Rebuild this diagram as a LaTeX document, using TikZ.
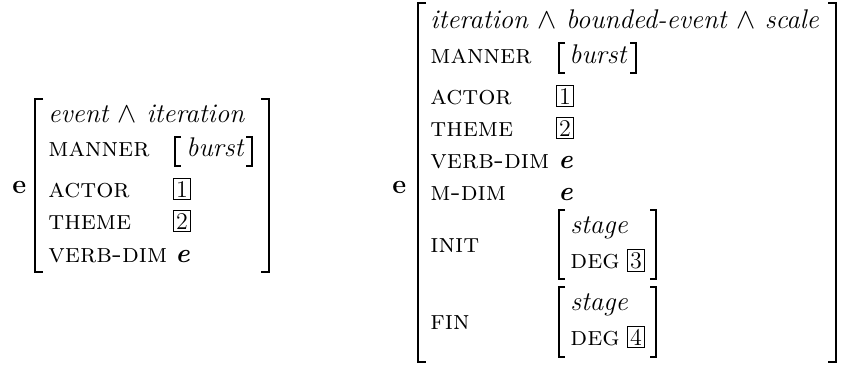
\documentclass[tikz,border=0pt]{standalone}
\usepackage{tikz}
\newcommand{\avmbr}[6]{%
    \draw[line width=#6] (#1+#5,#2) -- (#1,#2) -- (#1,#4) -- (#1+#5,#4);
    \draw[line width=#6] (#3-#5,#2) -- (#3,#2) -- (#3,#4) -- (#3-#5,#4);
}

\begin{document}
\begin{tikzpicture}[
        x=0.5pt, y=-0.5pt,
        every node/.style={inner sep=0pt, font=\fontsize{13.5}{16}\selectfont},
        attr/.style={anchor=base west, font=\fontsize{13.5}{16}\selectfont\scshape},
        typ/.style={anchor=base west, font=\fontsize{13.5}{16}\selectfont\itshape},
        tag/.style={draw, line width=0.4pt, inner sep=1.3pt, anchor=base west, font=\fontsize{12}{14}\selectfont},
        ind/.style={anchor=base west, font=\fontsize{13.5}{16}\selectfont\bfseries}
    ]
        \useasboundingbox (0,0) rectangle (842,365);

        \node[ind] (e1) at (12,193) {e};
        \node[typ] (t1) at (48,122) {event $\wedge$ iteration};
        \node[attr] (m1) at (48,156) {manner};
        \node[typ] (b1) at (186,156) {burst};
        \node[attr] (a1) at (48,197) {actor};
        \node[tag] (n1) at (173,197) {1};
        \node[attr] (th1) at (48,229) {theme};
        \node[tag] (n2) at (173,229) {2};
        \node[attr] (v1) at (48,262) {verb-dim};
        \node[typ] (ve1) at (175,262) {\bfseries e};
        \avmbr{35}{99}{269}{272}{8}{1.2pt}
        \avmbr{175}{137}{252}{166}{6}{0.7pt}

        \node[ind] (e2) at (392,193) {e};
        \node[typ] (t2) at (430,28) {iteration $\wedge$ bounded-event $\wedge$ scale};
        \node[attr] (m2) at (430,63) {manner};
        \node[typ] (b2) at (569,63) {burst};
        \node[attr] (a2) at (430,104) {actor};
        \node[tag] (n3) at (556,104) {1};
        \node[attr] (th2) at (430,136) {theme};
        \node[tag] (n4) at (556,136) {2};
        \node[attr] (v2) at (430,168) {verb-dim};
        \node[typ] (ve2) at (558,168) {\bfseries e};
        \node[attr] (md2) at (430,200) {m-dim};
        \node[typ] (me2) at (558,200) {\bfseries e};
        \node[attr] (in2) at (430,252) {init};
        \node[typ] (s1) at (570,233) {stage};
        \node[attr] (d1) at (570,268) {deg};
        \node[tag] (n5) at (627,268) {3};
        \node[attr] (fi2) at (430,329) {fin};
        \node[typ] (s2) at (570,310) {stage};
        \node[attr] (d2) at (570,345) {deg};
        \node[tag] (n6) at (627,345) {4};
        \avmbr{418}{3}{836}{362}{8}{1.2pt}
        \avmbr{559}{43}{636}{73}{6}{0.7pt}
        \avmbr{559}{210}{656}{279}{6}{0.8pt}
        \avmbr{559}{287}{656}{357}{6}{0.8pt}
    \end{tikzpicture}
\end{document}
